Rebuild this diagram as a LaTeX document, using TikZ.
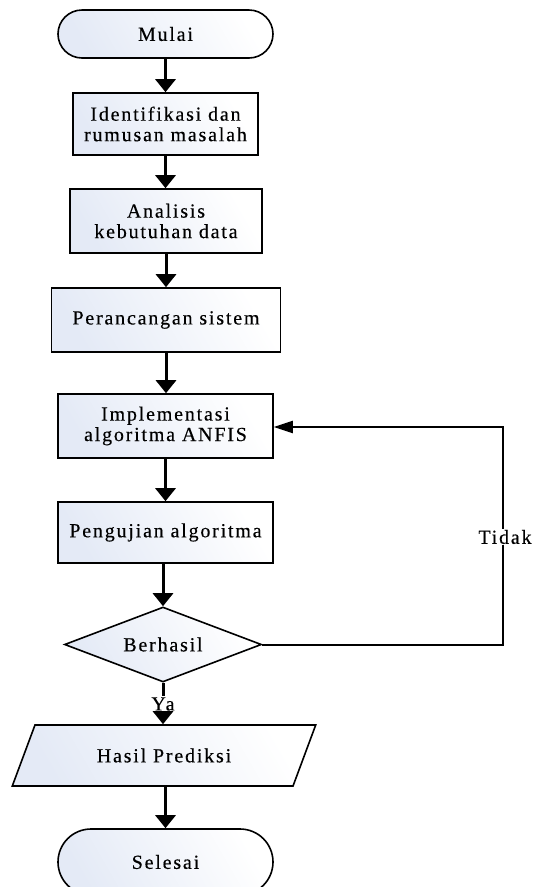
\documentclass[tikz,border=0pt]{standalone}
\usepackage{fontspec}
\setmainfont{Liberation Serif}[LetterSpace=9,FakeBold=0.3]
\usetikzlibrary{shapes.geometric,shapes.misc,arrows.meta}
\definecolor{shadeblue}{RGB}{228,234,246}
\tikzset{
  shaded/.style={draw=black, line width=1.6pt, left color=shadeblue, right color=white,
    shading angle=120, font=\fontsize{20}{20.5}\selectfont, align=center, inner sep=0pt},
  stepbox/.style={shaded, rectangle},
  terminal/.style={shaded, rounded rectangle},
  decision/.style={shaded, diamond, aspect=2.6},
  iobox/.style={shaded, trapezium, trapezium left angle=50, trapezium right angle=130,
    trapezium stretches=true},
  flow/.style={line width=3pt, -{Triangle[width=20pt,length=13pt]}},
  back/.style={line width=2pt, -{Triangle[width=12pt,length=19pt]}},
  lbl/.style={fill=white, inner sep=1pt, font=\fontsize{20}{20.5}\selectfont}
}
\begin{document}
\begin{tikzpicture}[x=1pt,y=1pt]
\useasboundingbox (0,0) rectangle (534,-887);

% process chain
\node[terminal, minimum width=215pt, minimum height=48pt] (mulai) at (165.5,-34) {Mulai};
\node[stepbox, minimum width=185pt, minimum height=62pt] (ident) at (165.5,-124) {Identifikasi dan\\rumusan masalah};
\node[stepbox, minimum width=192pt, minimum height=64pt] (anal) at (166,-221) {Analisis\\kebutuhan data};
\node[stepbox, minimum width=229pt, minimum height=64pt] (rancang) at (166,-320) {Perancangan sistem};
\node[stepbox, minimum width=215pt, minimum height=64pt] (impl) at (165.5,-426) {Implementasi\\algoritma ANFIS};
\node[stepbox, minimum width=215pt, minimum height=61pt] (uji) at (165.5,-532.5) {Pengujian algoritma};
\node[decision, minimum width=197pt, minimum height=75pt] (cek) at (163,-644.5) {Berhasil};
\node[iobox, minimum width=304pt, minimum height=61pt] (hasil) at (164,-755.5) {Hasil Prediksi};
\node[terminal, minimum width=215pt, minimum height=66pt] (selesai) at (165.5,-862) {Selesai};

% labels on the branches
\node[lbl] (ya) at (163,-704) {Ya};
\coordinate (turn1) at (503,-644.5);
\coordinate (turn2) at (503,-427);
\node[lbl] (tidak) at (505,-537) {Tidak};

% connectors
\draw[flow] (mulai.south) -- (mulai.south |- ident.north);
\draw[flow] (ident.south) -- (ident.south |- anal.north);
\draw[flow] (anal.south) -- (anal.south |- rancang.north);
\draw[flow] (rancang.south) -- (rancang.south |- impl.north);
\draw[flow] (impl.south) -- (impl.south |- uji.north);
\draw[flow] (uji.south -| cek.north) -- (cek.north);
\draw[line width=3pt] (cek.south) -- (ya.north);
\draw[flow] (ya.south) -- (ya.south |- hasil.north);
\draw[flow] (hasil.south -| selesai.north) -- (selesai.north);

% loop back when the test fails
\draw[line width=2pt] (cek.east) -- (turn1) -- (tidak.south -| turn1);
\draw[back] (tidak.north -| turn2) -- (turn2) -- (turn2 -| impl.east);
\end{tikzpicture}
\end{document}
